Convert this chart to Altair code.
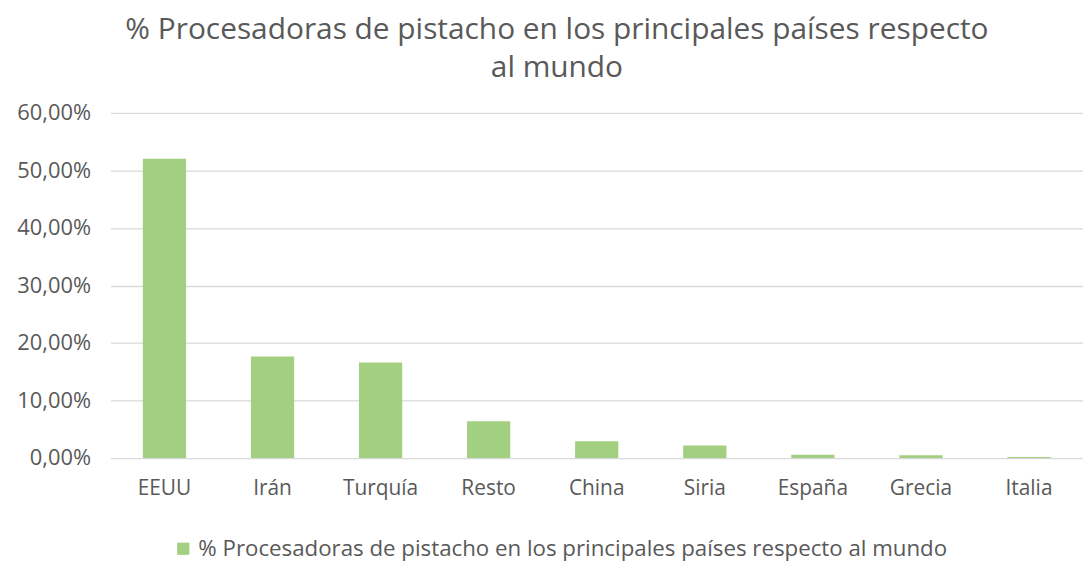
import altair as alt
import pandas as pd

paises = ["EEUU", "Irán", "Turquía", "Resto", "China", "Siria", "España", "Grecia", "Italia"]
valores = [0.5205, 0.1765, 0.166, 0.064, 0.029, 0.022, 0.0055, 0.005, 0.002]
serie = "% Procesadoras de pistacho en los principales países respecto al mundo"

df = pd.DataFrame({"pais": paises, "valor": valores, "serie": [serie] * len(paises)})

FONT = "Open Sans"
GREY = "#595959"

chart = alt.Chart(df).mark_bar(color="#A2CF80").encode(
    x=alt.X("pais:N", sort=paises, title=None,
            scale=alt.Scale(paddingInner=0.6, paddingOuter=0.3),
            axis=alt.Axis(labelAngle=0, labelFontSize=21, labelColor=GREY, labelFont=FONT,
                          domain=False, ticks=False, labelPadding=20)),
    y=alt.Y("valor:Q", title=None,
            scale=alt.Scale(domain=[0, 0.6]),
            axis=alt.Axis(values=[0, 0.1, 0.2, 0.3, 0.4, 0.5, 0.6],
                          labelExpr="replace(format(datum.value, '.2%'), '.', ',')",
                          labelFontSize=22, labelColor=GREY, labelFont=FONT,
                          domain=False, ticks=False, labelPadding=20,
                          gridColor="#D9D9D9", gridWidth=1.3)),
    color=alt.Color("serie:N", scale=alt.Scale(range=["#A2CF80"]),
                    legend=alt.Legend(title=None, orient="none", legendX=62, legendY=427,
                                      direction="horizontal", symbolType="square",
                                      symbolSize=150, labelFontSize=22.4, labelColor=GREY,
                                      labelFont=FONT, labelLimit=1000, labelOffset=4,
                                      symbolStrokeWidth=0)),
).properties(
    width=978, height=347,
    title=alt.TitleParams(
        text=["% Procesadoras de pistacho en los principales países respecto", "al mundo"],
        fontSize=30, font=FONT, color=GREY, fontWeight="normal", anchor="middle",
        lineHeight=38, offset=19, dx=-40),
    padding={"left": 8, "top": 6, "right": 0, "bottom": 0},
).configure_view(stroke=None).configure_axis(labelFont=FONT)

chart.save("out.html", embed_options={"renderer": "svg", "actions": False})
